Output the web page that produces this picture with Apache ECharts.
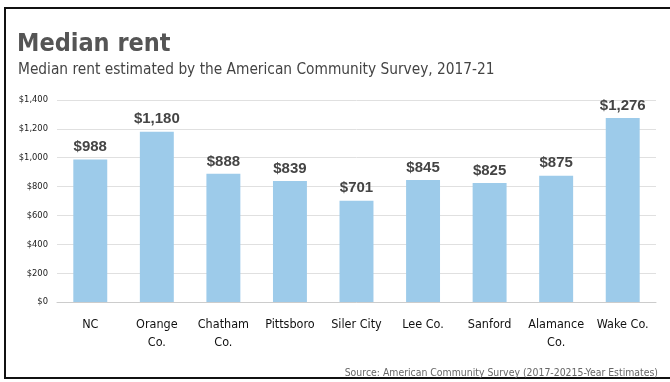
<!DOCTYPE html>
<html><head><meta charset="utf-8">
<script src="https://cdn.jsdelivr.net/npm/echarts@6/dist/echarts.min.js"></script>
<style>html,body{margin:0;padding:0;background:#fff}#c{width:670px;height:382px}</style>
</head><body><div id="c"></div>
<script>
const categories = ['NC', 'Orange\nCo.', 'Chatham\nCo.', 'Pittsboro', 'Siler City', 'Lee Co.', 'Sanford', 'Alamance\nCo.', 'Wake Co.'];
const rentValues = [988, 1180, 888, 839, 701, 845, 825, 875, 1276];
const yTicks = [0, 200, 400, 600, 800, 1000, 1200, 1400];

const NARROW = '"DejaVu Sans Condensed", "Liberation Sans Narrow", "Liberation Sans", sans-serif';
const chart = echarts.init(document.getElementById('c'), null, {renderer: 'canvas'});
const fmt = v => '$' + v.toLocaleString('en-US');
chart.setOption({
  animation: false,
  title: [
    {text: 'Median rent', left: 12, top: 27, textStyle: {fontFamily: NARROW, fontWeight: 'bold', fontSize: 25, color: '#555'}},
    {text: 'Median rent estimated by the American Community Survey, 2017-21', left: 13, top: 58, textStyle: {fontFamily: NARROW, fontWeight: 'normal', fontSize: 15.3, color: '#444'}},
    {text: 'Source: American Community Survey (2017-20215-Year Estimates)', right: 7, top: 363, textStyle: {fontFamily: NARROW, fontWeight: 'normal', fontSize: 10.4, color: '#666'}}
  ],
  graphic: [
    {type: 'rect', shape: {x: 5, y: 8, width: 700, height: 370}, style: {fill: 'none', stroke: '#111', lineWidth: 2}}
  ],
  grid: {left: 57, right: 14, top: 100, bottom: 80},
  xAxis: {
    type: 'category', data: categories,
    axisLine: {lineStyle: {color: '#ccc'}}, axisTick: {show: false},
    axisLabel: {color: '#111', fontSize: 12.5, fontFamily: NARROW, margin: 14, lineHeight: 18, interval: 0}
  },
  yAxis: {
    type: 'value', min: 0, max: 1400, interval: 200,
    axisLine: {show: false}, axisTick: {show: false},
    splitLine: {lineStyle: {color: '#e0e0e0'}},
    axisLabel: {color: '#222', fontSize: 9.3, fontFamily: NARROW, margin: 9, formatter: v => yTicks.includes(v) ? fmt(v) : ''}
  },
  series: [{
    type: 'bar', data: rentValues, barWidth: '51%',
    itemStyle: {color: '#9DCBEA'},
    label: {show: true, position: 'top', distance: 5, formatter: p => fmt(p.value), fontFamily: 'Liberation Sans, sans-serif', fontWeight: 'bold', fontSize: 15, color: '#444'}
  }]
});
</script></body></html>
